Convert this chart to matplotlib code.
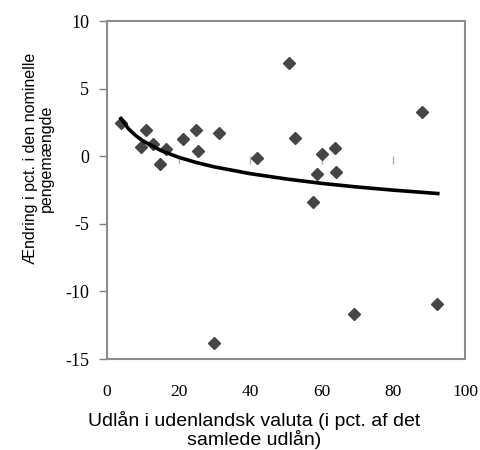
import matplotlib
matplotlib.use("Agg")
import matplotlib.pyplot as plt

# data
pct_foreign = [3.8, 10.9, 9.4, 12.8, 16.5, 14.9, 21.3, 24.9, 25.3, 31.3, 30.0,
               41.8, 50.8, 52.6, 57.6, 58.6, 60.0, 63.6, 64.0, 69.0, 88.1, 92.3]
money_change = [2.42, 1.97, 0.67, 0.89, 0.54, -0.57, 1.28, 1.97, 0.39, 1.70, -13.83,
                -0.10, 6.88, 1.35, -3.38, -1.28, 0.15, 0.64, -1.18, -11.66, 3.28, -10.95]

trend_x = [3.9, 6, 8, 10, 15, 20, 25, 30, 40, 50, 60, 70, 80, 92.4]
trend_y = [2.79, 2.03, 1.53, 1.14, 0.43, -0.08, -0.47, -0.79, -1.29, -1.68, -2.01, -2.28, -2.51, -2.76]

xticks = [0, 20, 40, 60, 80, 100]
yticks = [-15, -10, -5, 0, 5, 10]

fig = plt.figure(figsize=(4.8, 4.5), dpi=100)
ax = fig.add_axes([0.2229, 0.2022, 0.7458, 0.7511])

ax.plot(pct_foreign, money_change, linestyle="none", marker="D", markersize=6.5,
        color="#454545", markeredgecolor="#454545", zorder=3)
ax.plot(trend_x, trend_y, color="black", linewidth=2.6, zorder=4)
# small tick marks along the y=0 axis line
ax.plot(xticks[1:], [0] * (len(xticks) - 1), linestyle="none", marker=3,
        markersize=6, color="#b0b0b0", markeredgewidth=1)

ax.set_xlim(0, 100)
ax.set_ylim(-15, 10)
ax.set_xticks(xticks)
ax.set_yticks(yticks)
ax.set_xticklabels([str(t) for t in xticks], family="Liberation Serif", fontsize=12.5)
ax.set_yticklabels([str(t) for t in yticks], family="Liberation Serif", fontsize=13)
ax.tick_params(axis="x", length=0, pad=18)
ax.tick_params(axis="y", length=6, width=1, color="#808080", pad=7)

for s in ax.spines.values():
    s.set_color("#8c8c8c")
    s.set_linewidth(1.5)

ax.set_xlabel("Udlån i udenlandsk valuta (i pct. af det\nsamlede udlån)",
              family="Liberation Sans", fontsize=14, linespacing=1.0)
ax.xaxis.set_label_coords(0.41, -0.155)
ax.xaxis.label.set_va("top")
ax.set_ylabel("Ændring i pct. i den nominelle\npengemængde",
              family="Liberation Sans", fontsize=11.5, linespacing=1.1)
ax.yaxis.set_label_coords(-0.148, 0.595)

fig.savefig("out.png", dpi=100)
